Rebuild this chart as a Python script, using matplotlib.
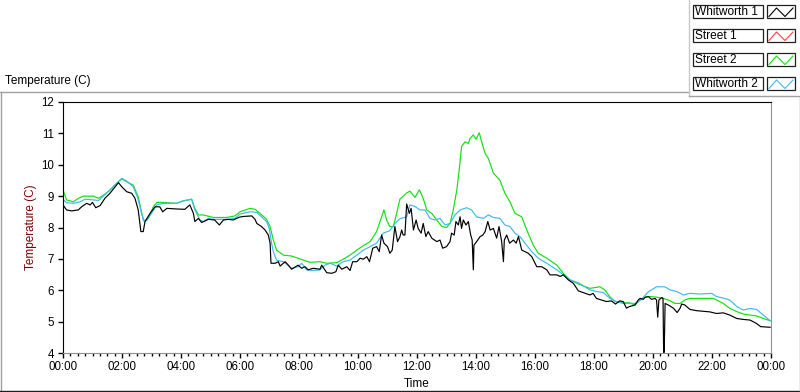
import matplotlib.pyplot as plt
from matplotlib.patches import Rectangle
from matplotlib.ticker import MultipleLocator, FuncFormatter

plt.rcParams['font.family'] = ['Liberation Sans', 'DejaVu Sans']

# Legend entries and plot colours
series_names = ['Whitworth 1', 'Street 1', 'Street 2', 'Whitworth 2']
series_colors = ['#000000', '#ff4040', '#10e010', '#40b8f0']

# Whitworth 1 (hours since midnight, temperature C)
w1_hours = [0.0, 0.12, 0.29, 0.52, 0.63, 0.8, 0.92, 1.0, 1.11, 1.26, 1.42, 1.59, 1.88, 1.99,
            2.16, 2.33, 2.44, 2.55, 2.64, 2.72, 2.78, 2.95, 3.12, 3.28, 3.38, 3.52, 3.85, 4.13,
            4.3, 4.42, 4.47, 4.59, 4.7, 4.93, 5.14, 5.3, 5.44, 5.6, 5.77, 5.98, 6.1, 6.4, 6.51,
            6.57, 6.73, 6.85, 6.96, 7.02, 7.05, 7.19, 7.3, 7.36, 7.53, 7.64, 7.75, 7.97, 8.09,
            8.2, 8.31, 8.48, 8.71, 8.77, 8.94, 9.11, 9.25, 9.33, 9.45, 9.62, 9.73, 9.82, 9.96,
            10.07, 10.18, 10.3, 10.39, 10.5, 10.63, 10.72, 10.8, 10.88, 11.0, 11.08, 11.16,
            11.25, 11.34, 11.42, 11.48, 11.53, 11.59, 11.65, 11.74, 11.8, 11.88, 11.97, 12.04,
            12.14, 12.21, 12.3, 12.38, 12.5, 12.67, 12.78, 12.87, 13.0, 13.12, 13.17, 13.26,
            13.32, 13.4, 13.46, 13.51, 13.57, 13.66, 13.74, 13.82, 13.87, 13.91, 13.93, 14.02,
            14.14, 14.23, 14.31, 14.4, 14.48, 14.59, 14.7, 14.78, 14.87, 14.93, 14.96, 15.04,
            15.14, 15.27, 15.36, 15.44, 15.55, 15.66, 15.77, 15.89, 16.06, 16.23, 16.4, 16.51,
            16.74, 16.85, 16.96, 17.13, 17.3, 17.47, 17.86, 17.97, 18.08, 18.25, 18.42, 18.59,
            18.73, 18.87, 18.99, 19.1, 19.2, 19.39, 19.5, 19.56, 19.67, 19.73, 19.84, 19.95,
            20.07, 20.12, 20.16, 20.2, 20.3, 20.34, 20.36, 20.38, 20.41, 20.52, 20.69, 20.82,
            20.92, 20.97, 21.08, 21.25, 21.47, 21.7, 21.93, 22.15, 22.38, 22.6, 22.84, 23.06,
            23.29, 23.51, 23.65, 23.97]
w1_temp = [8.72, 8.56, 8.53, 8.56, 8.66, 8.77, 8.72, 8.8, 8.63, 8.7, 8.93, 9.09, 9.43, 9.3,
           9.14, 9.09, 8.93, 8.56, 7.87, 7.87, 8.19, 8.45, 8.66, 8.66, 8.5, 8.61, 8.59, 8.58,
           8.72, 8.45, 8.19, 8.29, 8.16, 8.26, 8.24, 8.08, 8.24, 8.26, 8.24, 8.33, 8.35, 8.37, 8.26,
           8.13, 8.03, 7.92, 7.76, 7.5, 6.86, 6.86, 6.91, 6.77, 6.91, 6.8, 6.67, 6.8, 6.7,
           6.75, 6.65, 6.7, 6.67, 6.8, 6.56, 6.54, 6.59, 6.8, 6.67, 6.75, 6.63, 6.91, 6.91,
           7.02, 6.99, 7.07, 6.91, 7.34, 7.39, 7.23, 7.76, 7.5, 7.39, 7.18, 7.28,
           8.03, 7.55, 7.7, 7.92, 7.76, 7.76, 8.75, 8.45, 8.61, 7.92, 8.24, 7.97,
           7.82, 8.13, 7.71, 7.87, 7.66, 7.55, 7.6, 7.34, 7.39, 7.55, 7.82, 7.76,
           8.19, 8.08, 8.34, 7.97, 8.24, 8.08, 8.19, 7.76, 7.6, 6.65, 7.44, 7.55,
           7.71, 7.76, 7.87, 8.19, 7.92, 7.97, 7.66, 8.03, 7.55, 6.91, 7.6, 7.76,
           7.5, 7.6, 7.5, 7.71, 7.28, 7.23, 7.18, 7.07, 6.75, 6.75, 6.65, 6.49,
           6.49, 6.44, 6.49, 6.33, 6.22, 5.98, 5.85, 5.9, 5.74, 5.69, 5.64, 5.66,
           5.56, 5.66, 5.64, 5.43, 5.48, 5.53, 5.69, 5.74, 5.71, 5.77, 5.8, 5.71,
           5.74, 5.69, 5.14, 5.69, 5.77, 5.74, 4.02, 4.02, 5.58, 5.53, 5.43, 5.29,
           5.43, 5.56, 5.53, 5.39, 5.35, 5.33, 5.31, 5.26, 5.28, 5.21, 5.1, 5.07,
           5.05, 4.94, 4.84, 4.82]

# Street 1 has no data logged
s1_hours = []
s1_temp = []

# Street 2
s2_hours = [0.0, 0.12, 0.35, 0.52, 0.69, 1.03, 1.2, 1.37, 1.59, 1.82, 1.99, 2.16, 2.38, 2.55,
            2.67, 2.75, 2.89, 3.06, 3.18, 3.4, 3.85, 4.08, 4.36, 4.47, 4.59, 4.76, 5.09, 5.55,
            5.83, 6.0, 6.34, 6.51, 6.68, 6.9, 7.02, 7.13, 7.24, 7.47, 7.75, 8.03, 8.37, 8.71,
            8.94, 9.28, 9.5, 9.73, 9.96, 10.18, 10.41, 10.63, 10.8, 10.88, 10.97, 11.08, 11.2,
            11.31, 11.42, 11.65, 11.76, 11.93, 12.08, 12.21, 12.33, 12.5, 12.67, 12.84, 13.0,
            13.12, 13.23, 13.35, 13.43, 13.51, 13.63, 13.74, 13.8, 13.91, 14.0, 14.11, 14.19,
            14.31, 14.42, 14.59, 14.81, 14.98, 15.15, 15.32, 15.55, 15.72, 15.94, 16.11, 16.4,
            16.74, 16.96, 17.19, 17.47, 17.86, 18.2, 18.37, 18.54, 18.71, 18.99, 19.2, 19.39,
            19.56, 19.73, 19.9, 20.12, 20.3, 20.52, 20.75, 20.92, 21.08, 21.25, 21.7, 22.05,
            22.38, 22.61, 22.84, 23.06, 23.29, 23.51, 23.74, 23.97]
s2_temp = [9.2, 8.88, 8.82, 8.93, 9.0, 9.0, 8.93, 9.03, 9.19, 9.41, 9.55, 9.46, 9.35, 8.98,
           8.45, 8.19, 8.29, 8.66, 8.8, 8.8, 8.77, 8.85, 8.9, 8.61, 8.4, 8.4, 8.32, 8.32,
           8.37, 8.5, 8.61, 8.58, 8.45, 8.26, 8.03, 7.6, 7.28, 7.12, 7.09, 7.0, 6.89, 6.91,
           6.86, 6.88, 6.99, 7.12, 7.28, 7.42, 7.55, 7.87, 8.34, 8.56, 8.24, 8.03, 8.03,
           8.45, 8.9, 9.1, 9.16, 8.96, 9.2, 8.93, 8.56, 8.45, 8.24, 8.03, 8.0,
           8.13, 8.56, 9.2, 9.83, 10.58, 10.73, 10.68, 10.84, 10.95, 10.81, 11.02, 10.73,
           10.36, 10.2, 9.73, 9.51, 9.09, 8.82, 8.45, 8.34, 7.92, 7.44, 7.18, 7.02,
           6.8, 6.54, 6.33, 6.2, 6.06, 6.11, 6.01, 5.79, 5.64, 5.6, 5.6, 5.53,
           5.69, 5.79, 5.8, 5.78, 5.75, 5.69, 5.58, 5.58, 5.69, 5.74, 5.74, 5.74,
           5.58, 5.42, 5.32, 5.24, 5.21, 5.18, 5.1, 5.03]

# Whitworth 2
w2_hours = [0.0, 0.12, 0.35, 0.58, 0.75, 1.03, 1.2, 1.37, 1.71, 1.93, 1.99, 2.16, 2.38, 2.52,
            2.61, 2.72, 2.84, 3.0, 3.18, 3.4, 3.85, 4.08, 4.36, 4.47, 4.64, 4.76, 4.93, 5.09,
            5.55, 5.83, 6.0, 6.34, 6.57, 6.73, 6.9, 6.99, 7.07, 7.13, 7.24, 7.47, 7.75, 7.97,
            8.09, 8.26, 8.48, 8.71, 8.88, 9.06, 9.28, 9.5, 9.73, 9.96, 10.18, 10.41, 10.63,
            10.86, 11.08, 11.25, 11.42, 11.65, 11.76, 11.93, 12.1, 12.27, 12.44, 12.61, 12.78,
            12.95, 13.12, 13.29, 13.46, 13.68, 13.85, 14.02, 14.25, 14.42, 14.59, 14.81, 14.98,
            15.15, 15.32, 15.49, 15.66, 15.89, 16.11, 16.4, 16.74, 16.96, 17.19, 17.47, 17.86,
            18.08, 18.31, 18.54, 18.76, 18.99, 19.39, 19.61, 19.84, 20.12, 20.4, 20.58, 20.8,
            21.03, 21.25, 21.6, 21.99, 22.15, 22.38, 22.6, 22.84, 23.06, 23.29, 23.51, 23.74,
            23.97]
w2_temp = [8.9, 8.79, 8.77, 8.82, 8.9, 8.88, 8.86, 9.0, 9.3, 9.51, 9.57, 9.48, 9.3, 8.98,
           8.66, 8.24, 8.22, 8.45, 8.72, 8.77, 8.77, 8.85, 8.9, 8.56, 8.24, 8.19, 8.29, 8.26,
           8.26, 8.29, 8.43, 8.5, 8.48, 8.34, 8.19, 7.98, 7.5, 7.23, 6.96, 6.91, 6.7, 6.75,
           6.86, 6.65, 6.63, 6.65, 6.8, 6.86, 6.77, 6.91, 6.96, 7.12, 7.28, 7.39, 7.5,
           7.82, 7.9, 8.13, 8.28, 8.34, 8.72, 8.67, 8.56, 8.56, 8.29, 8.24, 8.29,
           8.08, 8.13, 8.4, 8.56, 8.63, 8.56, 8.34, 8.29, 8.4, 8.32, 8.29, 8.08,
           8.03, 7.82, 7.71, 7.5, 7.23, 7.02, 6.86, 6.65, 6.49, 6.33, 6.24, 6.01,
           5.96, 5.93, 5.74, 5.64, 5.58, 5.58, 5.71, 5.95, 6.11, 6.11, 6.01, 5.96,
           5.85, 5.9, 5.88, 5.9, 5.8, 5.75, 5.69, 5.48, 5.37, 5.42, 5.39, 5.21,
           5.03]

x_ticks = list(range(0, 25, 2))
y_ticks = list(range(4, 13))

fig = plt.figure(figsize=(8, 3.92), dpi=100)

# Panel frame and legend boxes, drawn in pixel coordinates
deco = fig.add_axes([0, 0, 1, 1])
deco.set_xlim(0, 800)
deco.set_ylim(392, 0)
deco.axis('off')
deco.plot([0, 689], [92, 92], color='#a0a0a0', lw=1)
deco.plot([0.5, 0.5], [92, 391], color='#a0a0a0', lw=1)
deco.plot([0, 799.5], [391, 391], color='#202020', lw=1)
deco.plot([799.5, 799.5], [96, 391], color='#a0a0a0', lw=1)
deco.plot([689, 689], [0, 96], color='#c8c8c8', lw=1)
deco.plot([689, 800], [96, 96], color='#a0a0a0', lw=1)
deco.text(5, 81, 'Temperature (C)', fontsize=8.5, va='center', ha='left')

for i, (name, color) in enumerate(zip(series_names, series_colors)):
    top = 5 + i * 24
    deco.add_patch(Rectangle((693, top), 70, 13, facecolor='white', edgecolor='#202020', lw=0.9))
    deco.text(695, top + 6.8, name, fontsize=8.6, va='center', ha='left')
    deco.add_patch(Rectangle((767, top), 28, 13, facecolor='white', edgecolor='#202020', lw=0.9))
    deco.plot([769, 776.5, 785, 793], [top + 11.5, top + 3, top + 11.5, top + 3], color=color, lw=0.8)

# Main chart
ax = fig.add_axes([63 / 800, 39 / 392, 708 / 800, 251 / 392])
for hours, temp, color in [(w1_hours, w1_temp, series_colors[0]),
                           (s1_hours, s1_temp, series_colors[1]),
                           (s2_hours, s2_temp, series_colors[2]),
                           (w2_hours, w2_temp, series_colors[3])]:
    ax.plot(hours, temp, color=color, lw=0.85)
# black trace on top like the original
ax.lines[0].set_zorder(5)

ax.set_xlim(0, 24)
ax.set_ylim(4, 12)
ax.set_xticks(x_ticks)
ax.xaxis.set_minor_locator(MultipleLocator(0.25))
ax.xaxis.set_major_formatter(FuncFormatter(lambda v, p: '%02d:00' % (int(round(v)) % 24)))
ax.set_yticks(y_ticks)

ax.tick_params(axis='x', which='major', length=3.6, width=1, pad=2, labelsize=8.3)
ax.tick_params(axis='x', which='minor', length=2.2, width=1)
ax.tick_params(axis='y', length=3.4, width=1, pad=3, labelsize=8.3)

ax.spines['top'].set_color('black')
ax.spines['left'].set_color('black')
ax.spines['bottom'].set_color('#909090')
ax.spines['right'].set_color('#909090')

ax.set_xlabel('Time', fontsize=8.5, labelpad=4)
ax.set_ylabel('Temperature (C)', fontsize=8.5, color='#800000', labelpad=3)

plt.savefig('out.png', dpi=100)
